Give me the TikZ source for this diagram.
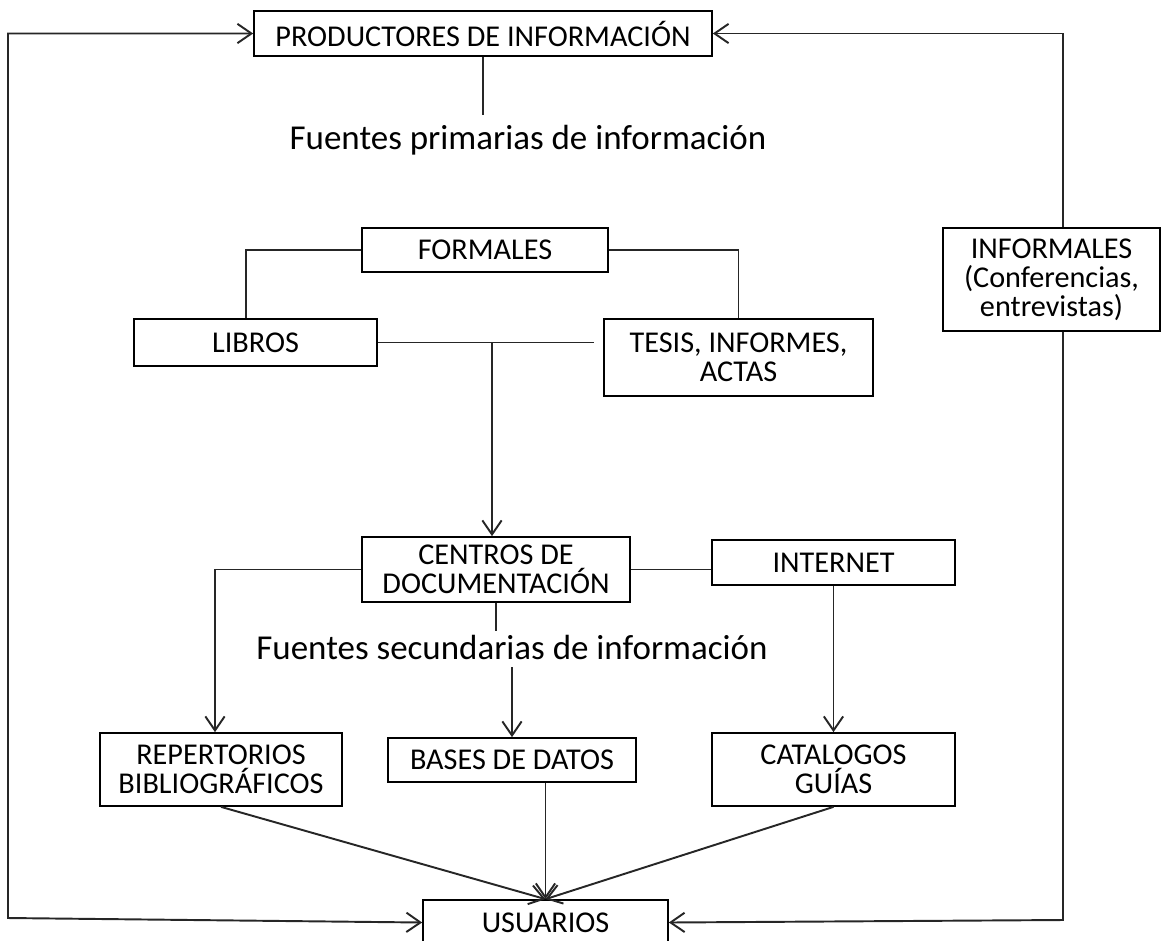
\documentclass[tikz,border=0pt]{standalone}
\usepackage{fontspec}
\setmainfont{Carlito}
\usetikzlibrary{arrows.meta,positioning}

\begin{document}
\begin{tikzpicture}[x=0.02cm,y=-0.02cm,
    caja/.style={draw=black,line width=1pt,fill=white,inner sep=2pt,align=center,
                 font=\fontsize{17.2}{16.5}\selectfont},
    rotulo/.style={inner sep=0pt,font=\fontsize{19.9}{22}\selectfont},
    linea/.style={draw=black!85,line width=1.1pt},
    flecha/.style={linea,-{Straight Barb[length=8pt,width=11pt]}},
    doble/.style={linea,{Straight Barb[length=8pt,width=11pt]}-{Straight Barb[length=8pt,width=11pt]}}]
  \useasboundingbox (0,0) rectangle (1172,940);

  % cajas
  \node[caja,minimum width=9.16cm,minimum height=0.9cm] (prod) at (483,33.5) {PRODUCTORES DE INFORMACIÓN};
  \node[rotulo] (fprim) at (528,140) {Fuentes primarias de información};
  \node[caja,minimum width=4.92cm,minimum height=0.88cm] (form) at (485,250) {FORMALES};
  \node[caja,minimum width=4.86cm,minimum height=0.94cm] (libros) at (255.5,342.5) {LIBROS};
  \node[caja,minimum width=5.38cm,minimum height=1.54cm] (tesis) at (738.5,357.5) {TESIS, INFORMES,\\ACTAS};
  \node[caja,minimum width=4.34cm,minimum height=2.06cm] (informales) at (1051.5,279.5) {INFORMALES\\(Conferencias,\\entrevistas)};
  \node[caja,minimum width=5.36cm,minimum height=1.3cm] (centros) at (496,569.5) {CENTROS DE\\DOCUMENTACIÓN};
  \node[caja,minimum width=4.86cm,minimum height=0.9cm] (internet) at (833.5,562.5) {INTERNET};
  \node[rotulo] (fsec) at (512,647) {Fuentes secundarias de información};
  \node[caja,minimum width=4.84cm,minimum height=1.46cm] (repert) at (221,769.5) {REPERTORIOS\\BIBLIOGRÁFICOS};
  \node[caja,minimum width=4.96cm,minimum height=0.88cm] (bases) at (512,760) {BASES DE DATOS};
  \node[caja,minimum width=4.86cm,minimum height=1.46cm] (catal) at (833.5,769.5) {CATALOGOS\\GUÍAS};
  \node[caja,minimum width=4.9cm,minimum height=0.9cm] (usuarios) at (545.5,922.5) {USUARIOS};

  % puntos de quiebre
  \coordinate (pA) at (483,115);
  \coordinate (codoI) at (246,250);
  \coordinate (codoD) at (738.5,250);
  \coordinate (junta) at (492,342.5);
  \coordinate (codoR) at (215,569.5);
  \coordinate (fsA) at (496,631);
  \coordinate (fsB) at (512,667);
  \coordinate (infA) at (1063,33.5);
  \coordinate (infB) at (1063,920);
  \coordinate (izqA) at (8,33.5);
  \coordinate (izqB) at (8,918);

  % conexiones
  \draw[linea] (prod.south) -- (pA);
  \draw[linea] (form.west) -- (codoI) -- (codoI |- libros.north);
  \draw[linea] (form.east) -- (codoD) -- (tesis.north);
  \draw[linea,shorten >=0.18cm] (libros.east) -- (libros.east -| tesis.west);
  \draw[flecha] (junta) -- (junta |- centros.north);
  \draw[linea] (centros.east) -- (centros.east -| internet.west);
  \draw[flecha] (centros.west) -- (codoR) -- (codoR |- repert.north);
  \draw[linea] (centros.south) -- (fsA);
  \draw[flecha] (fsB) -- (bases.north);
  \draw[flecha] (internet.south) -- (catal.north);
  \draw[flecha] (repert.south) -- (usuarios.north);
  \draw[flecha] (usuarios.north |- bases.south) -- (usuarios.north);
  \draw[flecha] (catal.south) -- (usuarios.north);
  \draw[flecha] (infA |- informales.north) -- (infA) -- (prod.east);
  \draw[flecha] (infB |- informales.south) -- (infB) -- (usuarios.east);
  \draw[doble] (prod.west) -- (izqA) -- (izqB) -- (usuarios.west);
\end{tikzpicture}
\end{document}
